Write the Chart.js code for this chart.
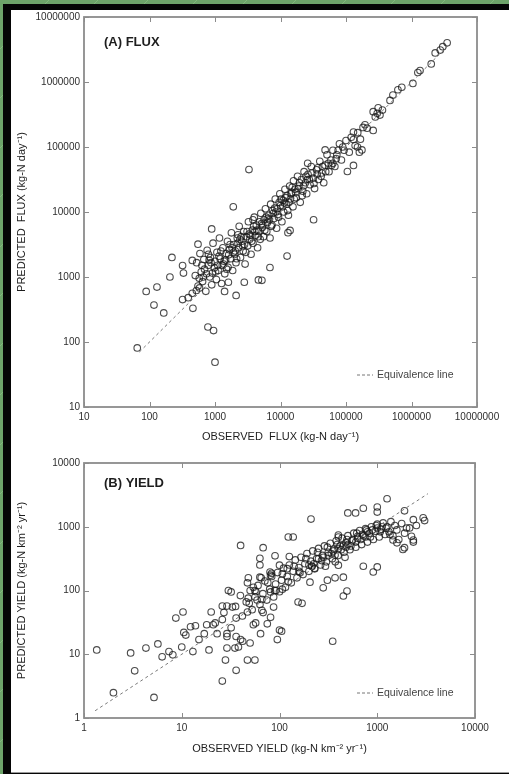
<!DOCTYPE html>
<html>
<head>
<meta charset="utf-8">
<script src="https://cdn.jsdelivr.net/npm/chart.js@4.4.0/dist/chart.umd.min.js"></script>
<style>
html, body { margin: 0; padding: 0; }
body {
    width: 509px; height: 774px; position: relative; overflow: hidden;
    background: repeating-linear-gradient(135deg, #6ea46a 0px, #6ea46a 34px, #82b87c 34px, #82b87c 35px);
}
#frame { position: absolute; left: 3px; top: 4px; width: 506px; height: 770px; background: #050505; }
#panel { position: absolute; left: 11px; top: 10px; width: 498px; height: 762px; background: #fff; border-bottom: 1px solid #9a9a9a; }
canvas { position: absolute; left: 0; }
</style>
</head>
<body>
<div id="frame"></div>
<div id="panel"></div>
<canvas id="fluxChart" width="509" height="450" style="top:0"></canvas>
<canvas id="yieldChart" width="509" height="334" style="top:440px"></canvas>
<script>
// tick labels
const fluxTickValues = [10, 100, 1000, 10000, 100000, 1000000, 10000000];
const fluxTickLabels = ['10', '100', '1000', '10000', '100000', '1000000', '10000000'];
const yieldTickValues = [1, 10, 100, 1000, 10000];
const yieldTickLabels = ['1', '10', '100', '1000', '10000'];

// equivalence line end points (observed = predicted)
const fluxEquivalence = [70, 3.8e6];
const yieldEquivalence = [1.3, 3300];

// (A) FLUX, kg-N per day
const fluxObserved = [
    // scattered low values
    65, 89, 130, 117, 165, 220, 205, 320, 390, 460,
    450, 550, 890, 780, 950, 1000, 1400, 2100, 2800, 5200,
    4600, 6900, 12600, 3300, 1900, 320, 330, 450, 520, 580,
    1600,
    // upper end
    3.5e6, 3.0e6, 2.75e6, 2.3e6, 2.0e6, 1.35e6, 1.25e6, 1.05e6, 7.1e5, 6.2e5,
    5.2e5, 4.7e5, 3.1e5, 2.6e5, 3.3e5, 2.8e5, 3.6e5, 3.0e5, 1.95e5, 2.6e5,
    1.3e5, 1.3e5, 1.75e5, 1.3e5, 1.05e5, 1.6e5, 2.1e5, 1.5e5, 4.8e4, 2.6e4,
    6.3e4, 3.2e4, 1.4e4, 1.3e4,
    // main band
    5.0e2, 5.25e2, 5.5e2, 5.89e2, 6.17e2, 6.46e2, 6.76e2, 6.92e2, 7.24e2, 7.59e2,
    7.94e2, 8.32e2, 8.51e2, 8.91e2, 9.33e2, 9.77e2, 1.0e3, 1.05e3, 1.07e3, 1.12e3,
    1.17e3, 1.2e3, 1.26e3, 1.32e3, 1.35e3, 1.41e3, 1.48e3, 1.55e3, 1.58e3, 1.66e3,
    1.74e3, 1.78e3, 1.86e3, 1.95e3, 2.0e3, 2.09e3, 2.19e3, 2.29e3, 2.34e3, 2.45e3,
    2.57e3, 2.69e3, 2.75e3, 2.88e3, 3.02e3, 3.16e3, 3.24e3, 3.39e3, 3.55e3, 3.72e3,
    3.8e3, 3.98e3, 4.17e3, 4.27e3, 4.47e3, 4.68e3, 4.9e3, 5.01e3, 5.25e3, 5.5e3,
    5.62e3, 5.89e3, 6.17e3, 6.31e3, 6.61e3, 6.92e3, 7.08e3, 7.41e3, 7.76e3, 7.94e3,
    8.32e3, 8.71e3, 8.91e3, 9.33e3, 9.77e3, 1.0e4, 1.05e4, 1.1e4, 1.12e4, 1.17e4,
    1.23e4, 1.26e4, 1.32e4, 1.38e4, 1.41e4, 1.48e4, 1.55e4, 1.58e4, 1.66e4, 1.74e4,
    1.82e4, 1.91e4, 2.0e4, 2.09e4, 2.19e4, 2.29e4, 2.4e4, 2.51e4, 2.63e4, 2.82e4,
    2.95e4, 3.16e4, 3.31e4, 3.55e4, 3.8e4, 3.98e4, 4.27e4, 4.57e4, 4.79e4, 5.13e4,
    5.5e4, 5.89e4, 6.31e4, 6.76e4, 7.24e4, 7.94e4, 8.51e4, 9.33e4, 1.0e5, 1.12e5,
    1.2e5, 1.38e5, 1.51e5, 1.66e5, 1.82e5,
    6.31e2, 7.41e2, 8.71e2, 1.02e3, 1.15e3, 1.29e3, 1.45e3, 1.62e3, 1.82e3, 2.04e3,
    2.24e3, 2.51e3, 2.82e3, 3.09e3, 3.47e3, 3.89e3, 4.37e3, 4.79e3, 5.37e3, 6.03e3,
    6.76e3, 7.59e3, 8.51e3, 9.55e3, 1.07e4, 1.2e4, 1.35e4, 1.51e4, 1.7e4, 1.95e4,
    2.24e4, 2.57e4, 3.02e4, 3.63e4, 4.37e4, 5.37e4, 7.08e4, 8.91e4, 5.75e2, 7.94e2,
    661, 813, 912, 1100, 1230, 1380, 1510, 1700, 1910, 2140,
    2400, 2630, 2950, 3310, 3630, 4070, 4570, 5130, 5750, 6460,
    7240, 8130, 9120, 10200, 11500, 12900, 14500, 16200, 18600, 21400,
    24500, 27500, 32400, 37200, 41700, 49000, 60300, 75900, 3800, 2240
];
const fluxPredicted = [
    81, 600, 700, 370, 280, 2000, 1000, 450, 480, 330,
    1800, 3200, 5500, 170, 150, 49, 600, 520, 830, 890,
    900, 1400, 2100, 45000, 12000, 1500, 1150, 560, 620, 680,
    830,
    4.0e6, 3.5e6, 3.1e6, 2.8e6, 1.9e6, 1.5e6, 1.4e6, 9.5e5, 8.3e5, 7.6e5,
    6.3e5, 5.2e5, 4.0e5, 3.5e5, 3.1e5, 2.9e5, 3.7e5, 3.3e5, 2.2e5, 1.8e5,
    1.7e5, 1.3e5, 9.0e4, 5.2e4, 4.2e4, 8.3e4, 1.95e5, 1.0e5, 9.0e4, 5.6e4,
    5.6e4, 7.6e3, 5.2e3, 4.8e3,
    1.05e3, 1.66e3, 7.24e2, 2.29e3, 1.2e3, 8.51e2, 1.86e3, 1.32e3, 6.03e2, 2.57e3,
    1.51e3, 1.0e3, 2.0e3, 7.59e2, 3.31e3, 1.38e3, 1.74e3, 9.12e2, 2.4e3, 1.26e3,
    3.98e3, 1.91e3, 7.94e2, 2.82e3, 1.58e3, 1.12e3, 2.29e3, 3.55e3, 1.41e3, 2.63e3,
    1.91e3, 4.79e3, 1.26e3, 3.16e3, 2.24e3, 1.66e3, 3.98e3, 2.82e3, 6.03e3, 2.0e3,
    3.55e3, 2.51e3, 5.01e3, 1.58e3, 4.17e3, 3.02e3, 7.08e3, 3.8e3, 2.24e3, 5.25e3,
    3.31e3, 8.32e3, 4.37e3, 6.31e3, 2.82e3, 5.01e3, 3.8e3, 9.55e3, 5.75e3, 4.17e3,
    7.59e3, 1.12e4, 5.01e3, 6.92e3, 8.91e3, 3.98e3, 1.32e4, 6.31e3, 9.55e3, 7.94e3,
    1.58e4, 5.62e3, 1.12e4, 8.32e3, 1.91e4, 1.26e4, 7.08e3, 1.51e4, 1.0e4, 2.24e4,
    1.32e4, 1.78e4, 8.91e3, 2.51e4, 1.58e4, 2.0e4, 1.2e4, 3.02e4, 2.24e4, 1.66e4,
    3.55e4, 2.51e4, 1.41e4, 3.16e4, 2.09e4, 4.17e4, 2.82e4, 1.91e4, 3.8e4, 2.63e4,
    5.01e4, 3.31e4, 2.29e4, 4.47e4, 3.16e4, 6.03e4, 3.98e4, 2.82e4, 5.25e4, 7.59e4,
    4.17e4, 6.31e4, 8.91e4, 5.01e4, 7.59e4, 1.12e5, 6.31e4, 8.91e4, 1.26e5, 8.32e4,
    1.41e5, 1.05e5, 1.66e5, 1.32e5, 2.0e5,
    1.51e3, 1.12e3, 1.66e3, 1.2e3, 2.09e3, 1.51e3, 1.82e3, 2.19e3, 2.82e3, 2.51e3,
    3.31e3, 4.17e3, 3.16e3, 5.01e3, 4.37e3, 6.03e3, 5.25e3, 7.08e3, 6.31e3, 8.32e3,
    7.59e3, 1.05e4, 1.0e4, 1.41e4, 1.2e4, 1.66e4, 1.41e4, 2.4e4, 2.0e4, 2.82e4,
    2.51e4, 3.16e4, 3.98e4, 3.8e4, 5.01e4, 5.62e4, 6.61e4, 1.0e5, 9.55e2, 2.24e3,
    1000, 1820, 1150, 1510, 2510, 1740, 1320, 3160, 2400, 1910,
    3800, 3020, 2400, 4570, 3550, 5010, 4170, 6610, 5250, 7940,
    6030, 11500, 9120, 15800, 13800, 10500, 19100, 15800, 22900, 17800,
    35500, 31600, 27500, 47900, 35500, 41700, 52500, 89100, 7590, 4470
];

// (B) YIELD, kg-N per km2 per year
const yieldObserved = [
    1.35, 2.0, 3.3, 3.0, 4.3, 5.7, 5.2, 6.3, 7.4, 8.1,
    10, 13, 19, 15, 10.5, 12.3, 13.8, 18, 21, 17,
    23, 29, 29, 35, 28, 36, 26, 47, 56, 50,
    42, 105, 95, 350, 10.3, 8.7, 20, 26, 29, 47,
    170, 54, 68, 87, 11, 22, 26, 27, 29, 32,
    36, 33, 32, 36, 40, 38, 64, 75, 49, 59,
    66, 57, 81, 65, 81, 100, 107, 92, 81, 47,
    30, 210, 40, 68, 123, 138, 63, 90, 126, 80,
    100, 63, 48, 56, 120, 155, 490, 450, 280, 370,
    450, 205, 215, 720, 910, 1000, 1260, 1000, 1000, 720,
    500, 600, 1900, 2340, 2950, 3050, 2140, 2340, 1900, 1590,
    1450, 400, 370, 1830, 400, 400, 309, 229, 63, 83,
    54, 2340,
    35.5, 39.8, 41.7, 45.7, 50.1, 52.5, 56.2, 60.3, 63.1, 67.6,
    70.8, 74.1, 79.4, 83.2, 87.1, 91.2, 95.5, 100, 105, 110,
    115, 120, 126, 132, 138, 145, 151, 158, 166, 174,
    182, 191, 200, 209, 219, 229, 240, 251, 263, 275,
    288, 302, 316, 331, 347, 363, 380, 398, 417, 437,
    457, 479, 501, 525, 550, 575, 603, 631, 661, 692,
    724, 759, 794, 832, 871, 912, 955, 1000, 1047, 1096,
    1148, 1202, 1259, 1318, 1380, 1445, 1514, 1585, 1660, 1778,
    1905, 1995, 2239, 2512,
    158, 200, 251, 316, 355, 398, 447, 501, 562, 631,
    708, 794, 891, 1000, 1122, 224, 282, 479, 603, 759,
    47.9, 57.5, 66.1, 75.9, 89.1, 107, 123, 141, 162, 186,
    214, 245, 269, 309, 339, 389, 427, 490, 537, 617,
    676, 776, 851, 977, 1072, 1230, 1349, 372, 468, 295
];
const yieldPredicted = [
    11.7, 2.5, 5.5, 10.5, 12.5, 14.5, 2.1, 9.1, 11, 9.8,
    13, 11, 11.7, 17, 22, 27, 28, 29, 29, 21,
    21, 21, 12.5, 12.5, 8.1, 5.6, 3.8, 8.1, 8.1, 15,
    16, 23, 17, 16, 46, 37, 46, 57, 57, 46,
    63, 29, 45, 55, 20, 31, 35, 45, 19, 26,
    37, 55, 95, 19, 17, 13, 21, 30, 63, 71,
    49, 31, 38, 158, 174, 24, 105, 100, 95, 132,
    100, 1320, 510, 470, 690, 690, 320, 350, 340, 195,
    250, 162, 158, 100, 220, 66, 98, 82, 110, 158,
    162, 135, 240, 240, 195, 234, 2750, 2040, 1700, 1950,
    1650, 1650, 1780, 1290, 1380, 1250, 960, 620, 470, 560,
    620, 690, 360, 440, 740, 250, 145, 224, 251, 186,
    112, 575,
    56.2, 83.2, 39.8, 66.1, 100, 50.1, 79.4, 120, 60.3, 89.1,
    141, 70.8, 105, 166, 79.4, 126, 191, 95.5, 145, 224,
    112, 166, 251, 132, 200, 302, 158, 229, 331, 178,
    263, 380, 200, 288, 417, 219, 316, 457, 251, 355,
    501, 282, 398, 550, 316, 447, 603, 355, 501, 661,
    398, 562, 724, 437, 603, 794, 479, 661, 871, 525,
    724, 933, 575, 794, 1000, 631, 851, 1096, 692, 912,
    1148, 759, 1000, 832, 1202, 724, 1047, 891, 631, 1122,
    794, 955, 708, 1047,
    200, 251, 316, 355, 417, 457, 501, 525, 631, 708,
    759, 832, 891, 955, 1000, 263, 331, 479, 575, 692,
    75.9, 95.5, 72.4, 132, 100, 182, 138, 240, 191, 316,
    240, 398, 295, 479, 380, 525, 437, 631, 501, 794,
    631, 891, 692, 1047, 832, 955, 759, 282, 331, 240
];

Chart.defaults.font.family = '"Liberation Sans", Arial, Helvetica, sans-serif';
Chart.defaults.color = '#333';

const panelDecor = {
    id: 'panelDecor',
    afterDatasetsDraw(chart, args, o) {
        const { ctx, chartArea: a, scales } = chart;
        ctx.save();
        ctx.strokeStyle = '#8c8c8c';
        ctx.lineWidth = 1.8;
        ctx.strokeRect(a.left, a.top, a.right - a.left, a.bottom - a.top);
        ctx.lineWidth = 1;
        ctx.beginPath();
        scales.x.ticks.forEach(t => {
            const px = Math.round(scales.x.getPixelForValue(t.value)) + 0.5;
            ctx.moveTo(px, a.bottom); ctx.lineTo(px, a.bottom - 5);
            ctx.moveTo(px, a.top); ctx.lineTo(px, a.top + 5);
        });
        scales.y.ticks.forEach(t => {
            const py = Math.round(scales.y.getPixelForValue(t.value)) + 0.5;
            ctx.moveTo(a.left, py); ctx.lineTo(a.left + 5, py);
            ctx.moveTo(a.right, py); ctx.lineTo(a.right - 5, py);
        });
        ctx.stroke();

        ctx.fillStyle = '#1e1e1e';
        ctx.textBaseline = 'middle';
        ctx.font = 'bold 13px "Liberation Sans", Arial, sans-serif';
        ctx.fillText(o.label, a.left + 20, a.top + o.labelOffset);

        const ly = a.bottom - o.legendOffset;
        ctx.strokeStyle = '#777';
        ctx.setLineDash([3, 2]);
        ctx.beginPath();
        ctx.moveTo(357, ly); ctx.lineTo(373, ly);
        ctx.stroke();
        ctx.setLineDash([]);
        ctx.fillStyle = '#444';
        ctx.font = '10.5px "Liberation Sans", Arial, sans-serif';
        ctx.fillText(o.legendText, 377, ly);
        ctx.restore();
    }
};

function logAxis(min, max, tickValues, tickLabels, titleText, titlePadding, fit) {
    return {
        type: 'logarithmic',
        min: min,
        max: max,
        afterBuildTicks: scale => { scale.ticks = tickValues.map(v => ({ value: v })); },
        afterFit: fit,
        grid: { display: false, drawTicks: false },
        border: { display: false },
        ticks: {
            autoSkip: false,
            maxRotation: 0,
            padding: 4,
            color: '#2e2e2e',
            font: { size: 10 },
            callback: (value, index) => tickLabels[index]
        },
        title: {
            display: true,
            text: titleText,
            color: '#1c1c1c',
            font: { size: 11 },
            padding: titlePadding
        }
    };
}

function buildChart(canvasId, observed, predicted, equivalence, axes, padding, decor) {
    const points = observed.map((v, i) => ({ x: v, y: predicted[i] }));
    return new Chart(document.getElementById(canvasId), {
        type: 'scatter',
        data: {
            datasets: [{
                label: 'Equivalence line',
                data: equivalence.map(v => ({ x: v, y: v })),
                showLine: true,
                borderColor: '#7a7a7a',
                borderWidth: 1,
                borderDash: [3, 3],
                pointRadius: 0
            }, {
                label: 'Stations',
                data: points,
                pointStyle: 'circle',
                pointRadius: 3.3,
                pointBorderWidth: 1.1,
                pointBackgroundColor: 'rgba(0,0,0,0)',
                pointBorderColor: 'rgba(25,25,25,0.78)'
            }]
        },
        options: {
            responsive: false,
            animation: false,
            devicePixelRatio: 1,
            layout: { padding: padding },
            plugins: {
                legend: { display: false },
                tooltip: { enabled: false },
                panelDecor: decor
            },
            scales: axes
        },
        plugins: [panelDecor]
    });
}

buildChart('fluxChart', fluxObserved, fluxPredicted, fluxEquivalence, {
    x: logAxis(10, 1e7, fluxTickValues, fluxTickLabels, 'OBSERVED  FLUX (kg-N day\u207B\u00B9)',
        { top: 0, bottom: 6 }, s => { s.height = 43; }),
    y: logAxis(10, 1e7, fluxTickValues, fluxTickLabels, 'PREDICTED  FLUX (kg-N day\u207B\u00B9)',
        { top: 15, bottom: 0 }, s => { s.width = 84; })
}, { top: 17, right: 32, left: 0, bottom: 0 },
{ label: '(A) FLUX', labelOffset: 25, legendOffset: 32, legendText: 'Equivalence line' });

buildChart('yieldChart', yieldObserved, yieldPredicted, yieldEquivalence, {
    x: logAxis(1, 1e4, yieldTickValues, yieldTickLabels, 'OBSERVED YIELD (kg-N km\u207B\u00B2 yr\u207B\u00B9)',
        { top: 0, bottom: 18 }, s => { s.height = 56; }),
    y: logAxis(1, 1e4, yieldTickValues, yieldTickLabels, 'PREDICTED YIELD (kg-N km\u207B\u00B2 yr\u207B\u00B9)',
        { top: 15, bottom: 0 }, s => { s.width = 84; })
}, { top: 23, right: 34, left: 0, bottom: 0 },
{ label: '(B) YIELD', labelOffset: 20, legendOffset: 25, legendText: 'Equivalence line' });
</script>
</body>
</html>
